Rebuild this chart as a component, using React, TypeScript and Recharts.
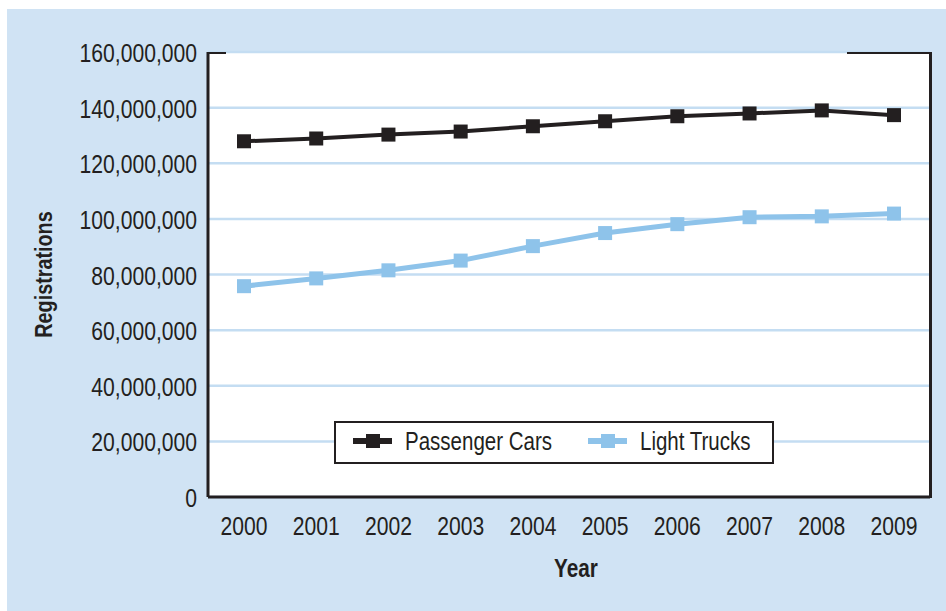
import React from 'react';
import { LineChart, Line, XAxis, YAxis, CartesianGrid, Legend, Label } from 'recharts';

// registrations per year
const years = ['2000', '2001', '2002', '2003', '2004', '2005', '2006', '2007', '2008', '2009'];
const passengerCars = [127900000, 128900000, 130300000, 131400000, 133300000, 135100000, 136900000, 137900000, 139000000, 137300000];
const lightTrucks = [75800000, 78600000, 81500000, 85000000, 90200000, 94900000, 98100000, 100600000, 100900000, 101900000];
const yTicks = [0, 20000000, 40000000, 60000000, 80000000, 100000000, 120000000, 140000000, 160000000];
const seriesNames = ['Passenger Cars', 'Light Trucks'];

const data = years.map((year, i) => ({ year, cars: passengerCars[i], trucks: lightTrucks[i] }));

const INK = '#231f20';
const BLUE = '#8ec3ea';
const FONT = '"Liberation Sans", Arial, sans-serif';
const SQUEEZE = 0.845; // the original uses a condensed face

const SquareDot = (props: any) => {
  const { cx, cy, fill } = props;
  if (cx == null || cy == null) return null;
  return <rect x={cx - 7} y={cy - 7} width={14} height={14} fill={fill} />;
};

const YTick = (props: any) => {
  const { x, y, payload } = props;
  return (
    <text transform={`translate(${x},${y}) scale(${SQUEEZE},1)`} textAnchor="end" dy={10} fill={INK} fontSize={25} fontFamily={FONT}>
      {Number(payload.value).toLocaleString('en-US')}
    </text>
  );
};

const XTick = (props: any) => {
  const { x, y, payload } = props;
  return (
    <text transform={`translate(${x},${y}) scale(${SQUEEZE},1)`} textAnchor="middle" dy={18} fill={INK} fontSize={25} fontFamily={FONT}>
      {payload.value}
    </text>
  );
};

const YTitle = (props: any) => {
  const { viewBox } = props;
  const cy = viewBox.y + viewBox.height / 2;
  return (
    <text transform={`translate(${viewBox.x + 25},${cy}) rotate(-90) scale(0.86,1)`} textAnchor="middle" fill={INK} fontSize={23} fontWeight="bold" fontFamily={FONT}>
      Registrations
    </text>
  );
};

const XTitle = (props: any) => {
  const { viewBox } = props;
  return (
    <text transform={`translate(${viewBox.x + viewBox.width / 2 + 7},${viewBox.y + 80}) scale(0.83,1)`} textAnchor="middle" fill={INK} fontSize={25} fontWeight="bold" fontFamily={FONT}>
      Year
    </text>
  );
};

const iconLeft = [19, 254];
const textLeft = [71, 306];

const LegendBox = (props: any) => {
  const payload = [...(props.payload || [])].sort(
    (a: any, b: any) => seriesNames.indexOf(a.value) - seriesNames.indexOf(b.value)
  );
  return (
    <div
      style={{
        position: 'relative',
        width: 440,
        height: 43,
        border: `2px solid ${INK}`,
        background: '#fff',
        boxSizing: 'border-box',
        fontFamily: FONT,
        fontSize: 25,
        color: INK,
      }}
    >
      {payload.map((p: any, i: number) => (
        <React.Fragment key={p.value}>
          <svg width={40} height={16} style={{ position: 'absolute', left: iconLeft[i] - 2, top: 10 }}>
            <line x1={0} y1={8} x2={39} y2={8} stroke={p.color} strokeWidth={6} />
            <rect x={13} y={1} width={14} height={14} fill={p.color} />
          </svg>
          <span
            style={{
              position: 'absolute',
              left: textLeft[i] - 2,
              top: 4,
              lineHeight: '29px',
              whiteSpace: 'nowrap',
              transform: 'scaleX(0.82)',
              transformOrigin: 'left center',
            }}
          >
            {p.value}
          </span>
        </React.Fragment>
      ))}
    </div>
  );
};

export default function App() {
  return (
    <div
      style={{
        position: 'absolute',
        left: 7,
        top: 9,
        width: 939,
        height: 602,
        background: '#d0e3f4',
      }}
    >
      <LineChart width={939} height={602} data={data} margin={{ top: 43, right: 16, bottom: 20, left: 20 }}>
        <CartesianGrid vertical={false} stroke="#c4ddf2" strokeWidth={2.5} fill="#ffffff" />
        <XAxis
          dataKey="year"
          height={94}
          padding={{ left: 36, right: 36 }}
          axisLine={{ stroke: INK, strokeWidth: 3 }}
          tickLine={false}
          tickSize={0}
          tickMargin={20}
          tick={<XTick />}
          interval={0}
        >
          <Label content={<XTitle />} />
        </XAxis>
        <YAxis
          width={181}
          domain={[0, 160000000]}
          ticks={yTicks}
          interval={0}
          axisLine={{ stroke: INK, strokeWidth: 3 }}
          tickLine={false}
          tickSize={0}
          tickMargin={11}
          tick={<YTick />}
        >
          <Label content={<YTitle />} />
        </YAxis>
        <Legend
          content={<LegendBox />}
          itemSorter={null as any}
          wrapperStyle={{ position: 'absolute', left: 327, top: 412, width: 0, height: 0, overflow: 'visible' }}
        />
        <Line
          dataKey="cars"
          name="Passenger Cars"
          type="linear"
          stroke={INK}
          strokeWidth={4}
          fill={INK}
          dot={<SquareDot fill={INK} />}
          activeDot={false}
          isAnimationActive={false}
        />
        <Line
          dataKey="trucks"
          name="Light Trucks"
          type="linear"
          stroke={BLUE}
          strokeWidth={5}
          fill={BLUE}
          dot={<SquareDot fill={BLUE} />}
          activeDot={false}
          isAnimationActive={false}
        />
      </LineChart>
      {/* right and top frame of the plot area */}
      <div style={{ position: 'absolute', left: 922, top: 43, width: 3, height: 446, background: INK }} />
      <div style={{ position: 'absolute', left: 201, top: 43, width: 18, height: 2, background: INK }} />
      <div style={{ position: 'absolute', left: 840, top: 43, width: 85, height: 2, background: INK }} />
    </div>
  );
}
